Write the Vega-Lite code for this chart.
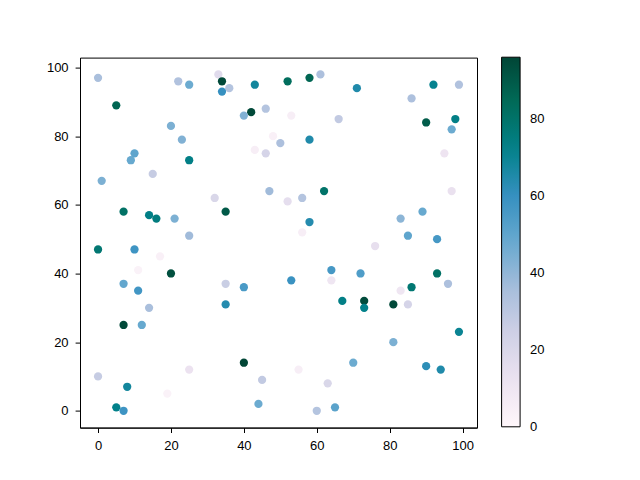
{
  "$schema": "https://vega.github.io/schema/vega-lite/v6.json",
  "autosize": {"type": "none"},
  "width": 397,
  "height": 370,
  "padding": {"left": 80, "top": 57.6, "right": 163, "bottom": 52.4},
  "background": "white",
  "config": {
    "view": {"stroke": "black", "strokeWidth": 1},
    "axis": {
      "grid": false,
      "domainColor": "black",
      "domainWidth": 1,
      "tickColor": "black",
      "tickWidth": 1,
      "tickSize": 4.9,
      "labelFont": "Liberation Sans",
      "labelFontSize": 13,
      "labelColor": "black",
      "title": null
    },
    "axisX": {"labelPadding": 7},
    "axisY": {"labelPadding": 7}
  },
  "data": {
    "values": [
      {"x": 0, "y": 97, "c": 35}, {"x": 5, "y": 89, "c": 86}, {"x": 22, "y": 96, "c": 33}, {"x": 25, "y": 95, "c": 47},
      {"x": 33, "y": 98, "c": 17}, {"x": 34, "y": 96, "c": 95}, {"x": 36, "y": 94, "c": 32}, {"x": 34, "y": 93, "c": 60},
      {"x": 43, "y": 95, "c": 68}, {"x": 42, "y": 87, "c": 95}, {"x": 40, "y": 86, "c": 43}, {"x": 46, "y": 88, "c": 32},
      {"x": 48, "y": 80, "c": 4}, {"x": 50, "y": 78, "c": 34}, {"x": 43, "y": 76, "c": 5}, {"x": 46, "y": 75, "c": 22},
      {"x": 20, "y": 83, "c": 44}, {"x": 23, "y": 79, "c": 43}, {"x": 10, "y": 75, "c": 50}, {"x": 9, "y": 73, "c": 48},
      {"x": 25, "y": 73, "c": 73}, {"x": 15, "y": 69, "c": 27}, {"x": 1, "y": 67, "c": 44}, {"x": 32, "y": 62, "c": 20},
      {"x": 47, "y": 64, "c": 37}, {"x": 7, "y": 58, "c": 81}, {"x": 14, "y": 57, "c": 73}, {"x": 16, "y": 56, "c": 75},
      {"x": 21, "y": 56, "c": 44}, {"x": 35, "y": 58, "c": 90}, {"x": 25, "y": 51, "c": 37}, {"x": 0, "y": 47, "c": 78},
      {"x": 10, "y": 47, "c": 58},
      {"x": 52, "y": 96, "c": 83}, {"x": 58, "y": 97, "c": 86}, {"x": 61, "y": 98, "c": 34}, {"x": 71, "y": 94, "c": 65},
      {"x": 86, "y": 91, "c": 34}, {"x": 92, "y": 95, "c": 71}, {"x": 99, "y": 95, "c": 33}, {"x": 53, "y": 86, "c": 5},
      {"x": 66, "y": 85, "c": 28}, {"x": 90, "y": 84, "c": 89}, {"x": 98, "y": 85, "c": 73}, {"x": 97, "y": 82, "c": 47},
      {"x": 58, "y": 79, "c": 65}, {"x": 95, "y": 75, "c": 11}, {"x": 62, "y": 64, "c": 80}, {"x": 52, "y": 61, "c": 15},
      {"x": 56, "y": 62, "c": 32}, {"x": 97, "y": 64, "c": 13}, {"x": 58, "y": 55, "c": 64}, {"x": 56, "y": 52, "c": 5},
      {"x": 83, "y": 56, "c": 41}, {"x": 89, "y": 58, "c": 48}, {"x": 85, "y": 51, "c": 50}, {"x": 93, "y": 50, "c": 56},
      {"x": 76, "y": 48, "c": 14},
      {"x": 17, "y": 45, "c": 4}, {"x": 11, "y": 41, "c": 3}, {"x": 20, "y": 40, "c": 93}, {"x": 7, "y": 37, "c": 49},
      {"x": 11, "y": 35, "c": 57}, {"x": 35, "y": 37, "c": 26}, {"x": 40, "y": 36, "c": 55}, {"x": 14, "y": 30, "c": 35},
      {"x": 35, "y": 31, "c": 64}, {"x": 7, "y": 25, "c": 95}, {"x": 12, "y": 25, "c": 48}, {"x": 40, "y": 14, "c": 96},
      {"x": 0, "y": 10, "c": 27}, {"x": 25, "y": 12, "c": 12}, {"x": 45, "y": 9, "c": 28}, {"x": 8, "y": 7, "c": 68},
      {"x": 19, "y": 5, "c": 3}, {"x": 44, "y": 2, "c": 47}, {"x": 5, "y": 1, "c": 72}, {"x": 7, "y": 0, "c": 58},
      {"x": 53, "y": 38, "c": 59}, {"x": 64, "y": 41, "c": 56}, {"x": 64, "y": 38, "c": 10}, {"x": 72, "y": 40, "c": 54},
      {"x": 93, "y": 40, "c": 81}, {"x": 96, "y": 37, "c": 34}, {"x": 86, "y": 36, "c": 78}, {"x": 83, "y": 35, "c": 10},
      {"x": 67, "y": 32, "c": 73}, {"x": 73, "y": 32, "c": 94}, {"x": 73, "y": 30, "c": 72}, {"x": 81, "y": 31, "c": 95},
      {"x": 85, "y": 31, "c": 22}, {"x": 99, "y": 23, "c": 70}, {"x": 81, "y": 20, "c": 44}, {"x": 70, "y": 14, "c": 47},
      {"x": 90, "y": 13, "c": 62}, {"x": 94, "y": 12, "c": 65}, {"x": 55, "y": 12, "c": 5}, {"x": 63, "y": 8, "c": 20},
      {"x": 60, "y": 0, "c": 32}, {"x": 65, "y": 1, "c": 51}
    ]
  },
  "mark": {"type": "circle", "size": 68, "opacity": 1},
  "encoding": {
    "x": {
      "field": "x", "type": "quantitative",
      "scale": {"domain": [-4.95, 103.95], "nice": false, "zero": false},
      "axis": {"values": [0, 20, 40, 60, 80, 100]}
    },
    "y": {
      "field": "y", "type": "quantitative",
      "scale": {"domain": [-4.9, 102.9], "nice": false, "zero": false},
      "axis": {"values": [0, 20, 40, 60, 80, 100]}
    },
    "color": {
      "field": "c", "type": "quantitative",
      "scale": {
        "domain": [-0.02, 0, 12, 24, 36, 48, 60, 72, 84, 96],
        "range": ["#fff7fb", "#fff7fb", "#ece2f0", "#d0d1e6", "#a6bddb", "#67a9cf", "#3690c0", "#02818a", "#016c59", "#014636"],
        "interpolate": "rgb"
      },
      "legend": {
        "title": null,
        "orient": "none",
        "legendX": 421.6,
        "legendY": -0.4,
        "direction": "vertical",
        "gradientLength": 369.6,
        "gradientThickness": 18.5,
        "gradientStrokeColor": "black",
        "gradientStrokeWidth": 1,
        "values": [0, 20, 40, 60, 80],
        "labelFont": "Liberation Sans",
        "labelFontSize": 13,
        "labelColor": "black",
        "labelOffset": 9.8,
        "labelOverlap": false
      }
    }
  }
}
